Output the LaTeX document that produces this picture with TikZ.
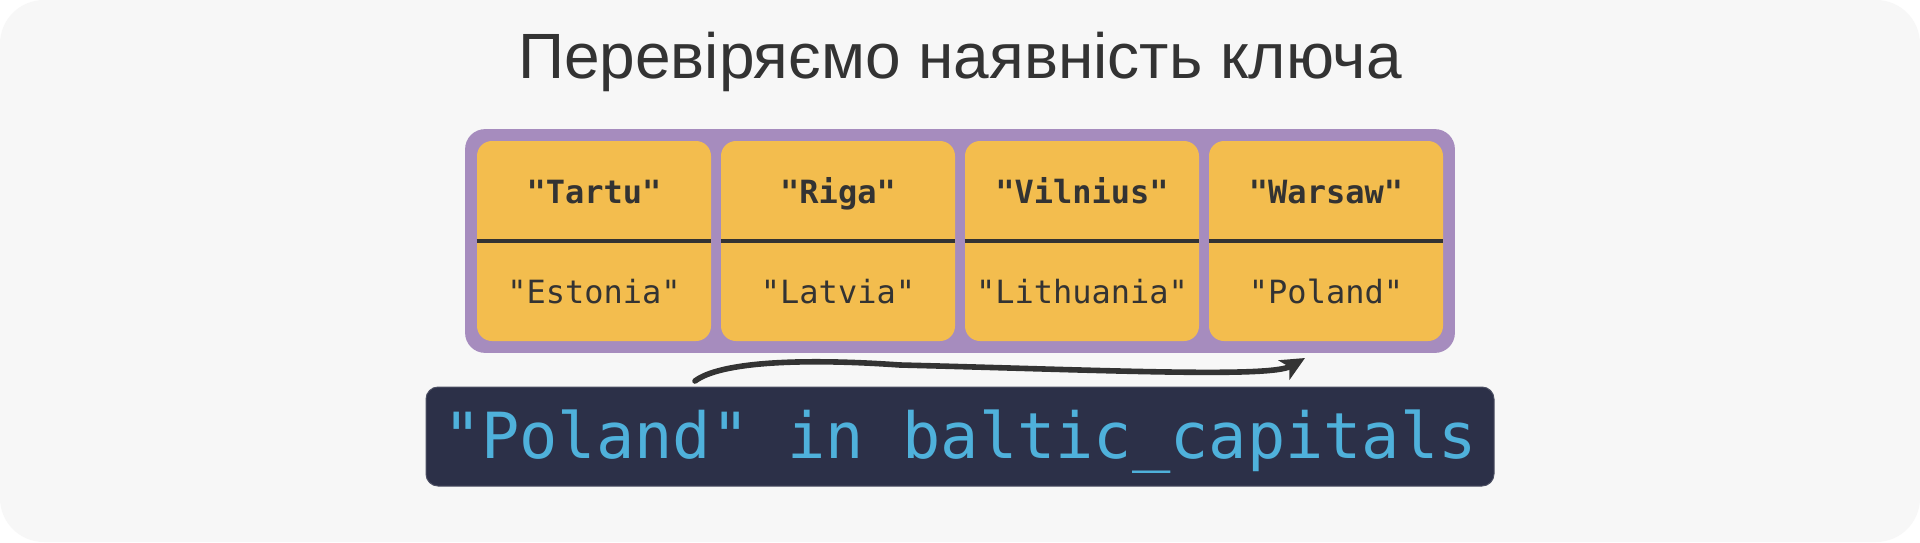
\documentclass[tikz,border=0pt]{standalone}
\usepackage{fontspec}
\setmainfont{Liberation Sans}
\setmonofont{DejaVu Sans Mono}
\usetikzlibrary{arrows.meta,backgrounds,fit}
\definecolor{CapsBack}{HTML}{F7F7F7}
\definecolor{CapsInk}{HTML}{333333}
\definecolor{CapsCard}{HTML}{F3BD4E}
\definecolor{CapsPurple}{HTML}{A68CBE}
\definecolor{CapsCode}{HTML}{2C3048}
\definecolor{CapsCyan}{HTML}{4FB1DB}
\tikzset{
  >=Stealth,
  titletext/.style={font=\fontsize{32}{38}\selectfont,text=CapsInk,anchor=base,inner sep=0pt},
  cardbox/.style={fill=CapsCard,rounded corners=7.5pt,minimum width=117pt,
    minimum height=100pt,inner sep=0pt},
  keytext/.style={font=\ttfamily\bfseries\fontsize{16}{19}\selectfont,text=CapsInk,
    anchor=base,inner sep=0pt},
  valtext/.style={font=\ttfamily\fontsize{16}{19}\selectfont,text=CapsInk,
    anchor=base,inner sep=0pt},
  divider/.style={draw=CapsInk,line width=1.75pt},
  dictbox/.style={fill=CapsPurple,rounded corners=10pt,inner sep=5.75pt},
  codebox/.style={fill=CapsCode,draw=CapsCode!85!white,line width=0.5pt,rounded corners=6pt,
    minimum width=534pt,minimum height=49.5pt,inner sep=0pt},
  codetext/.style={font=\ttfamily\fontsize{31.8}{38}\selectfont,text=CapsCyan,
    anchor=base,inner sep=0pt},
  handarrow/.style={-{Stealth[length=12pt,width=11pt,inset=3pt]},line width=2.8pt,
    draw=CapsInk,line cap=round}
}

\begin{document}
\begin{tikzpicture}[x=0.5pt,y=-0.5pt]
  \begin{scope}[on background layer]
    \fill[white] (0,0) rectangle (1920,542);
    \fill[CapsBack] (0,0) [rounded corners=22pt] rectangle (1920,542);
  \end{scope}
  \useasboundingbox (0,0) rectangle (1920,542);

  \node[titletext] (title) at (960,78) {Перевіряємо наявність ключа};

  % dictionary entries
  \foreach \key/\val [count=\i] in {Tartu/Estonia,Riga/Latvia,Vilnius/Lithuania,Warsaw/Poland} {
    \node[cardbox] (card\i) at ({594+244*(\i-1)},241) {};
    \node[keytext] (key\i) at ({594+244*(\i-1)},203) {"\key"};
    \node[valtext] (val\i) at ({594+244*(\i-1)},303) {"\val"};
    \draw[divider] (card\i.west) -- (card\i.east);
  }
  \begin{scope}[on background layer]
    \node[dictbox,fit=(card1)(card4)] (dict) {};
  \end{scope}

  \node[codebox] (codeline) at (960,436.5) {};
  \node[codetext] (query) at (960,458) {"Poland" in baltic\_capitals};

  \coordinate (arrowtail) at (695,381);
  \coordinate (arrowtip) at (1305,358);
  \draw[handarrow] (arrowtail) .. controls (720,362) and (800,358) .. (900,365)
    .. controls (1100,370) and (1270,378) .. (arrowtip);
\end{tikzpicture}
\end{document}
